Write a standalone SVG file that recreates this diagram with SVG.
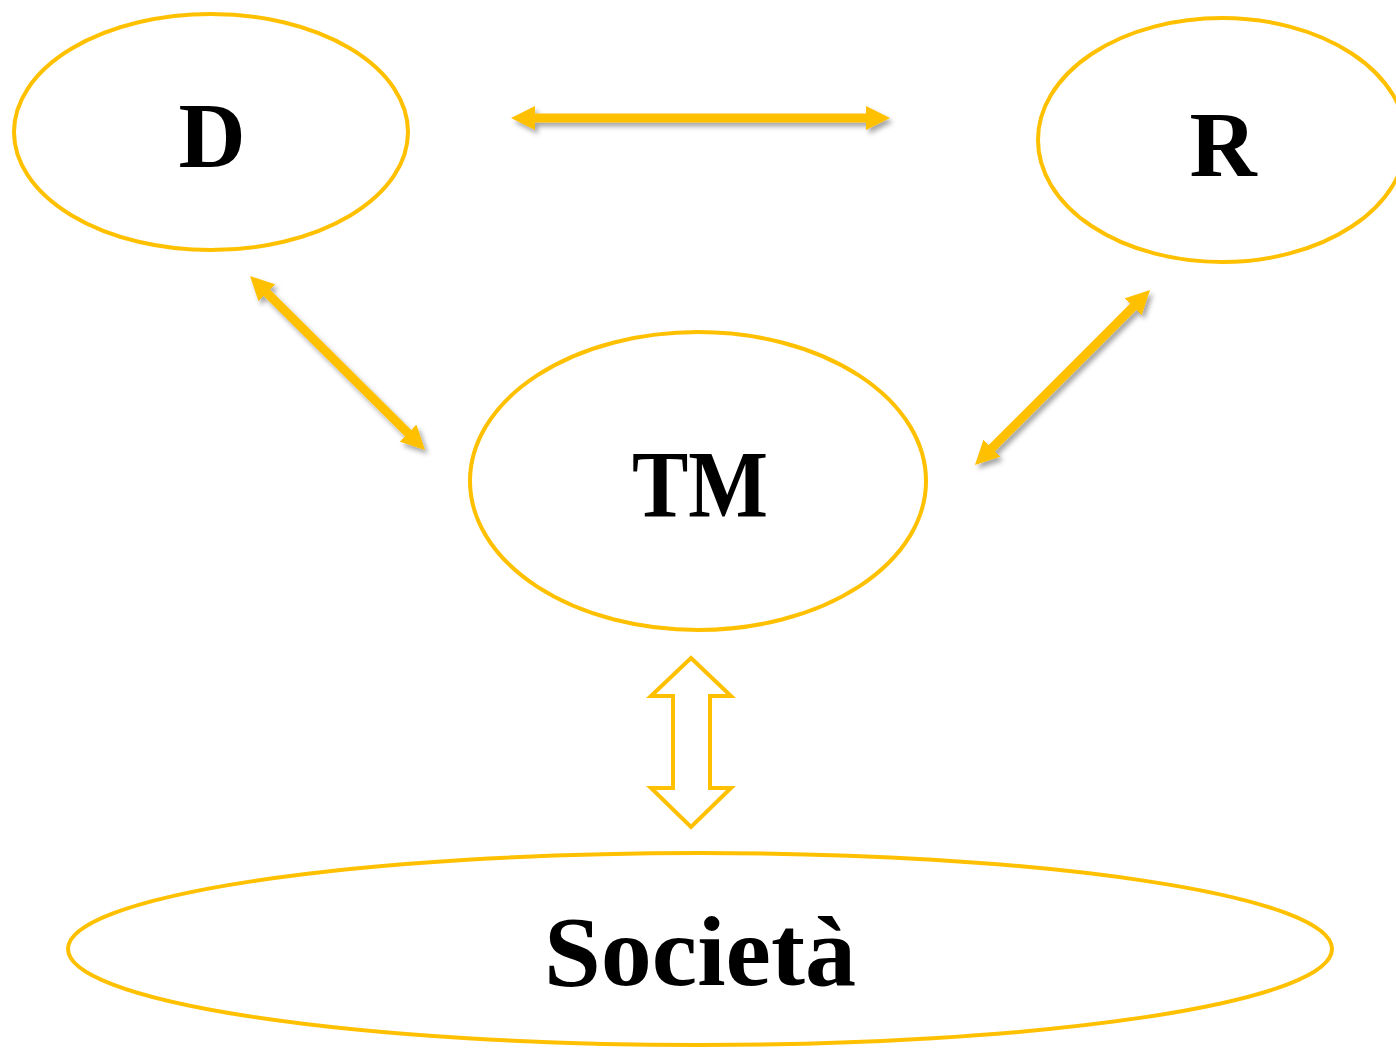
<svg xmlns="http://www.w3.org/2000/svg" width="1396" height="1048" viewBox="0 0 1396 1048">
<defs>
<style>
.node{fill:none;stroke:#FFC000;stroke-width:4}
.lbl{font-family:"Liberation Serif","DejaVu Serif",serif;font-weight:bold;fill:#000;text-anchor:middle}
.conn{stroke:#FFC000;stroke-width:9;fill:none;marker-start:url(#ah);marker-end:url(#ah);filter:url(#sh)}
.block{fill:#fff;stroke:#FFC000;stroke-width:4;stroke-linejoin:miter}
</style>
<marker id="ah" viewBox="0 0 24 24" refX="4" refY="12" markerWidth="24" markerHeight="24" markerUnits="userSpaceOnUse" orient="auto-start-reverse">
<path d="M0,0 L24,12 L0,24 z" fill="#FFC000"/>
</marker>
<filter id="sh" filterUnits="userSpaceOnUse" x="0" y="0" width="1396" height="1048">
<feDropShadow dx="3" dy="4" stdDeviation="2.5" flood-color="#000" flood-opacity="0.35"/>
</filter>
</defs>
<g id="node-D">
<ellipse class="node" cx="211" cy="132" rx="197" ry="118"/>
<text class="lbl" x="212" y="167" font-size="93">D</text>
</g>
<g id="node-R">
<ellipse class="node" cx="1222" cy="140" rx="184" ry="122"/>
<text class="lbl" x="1223" y="176" font-size="93">R</text>
</g>
<g id="node-TM">
<ellipse class="node" cx="698" cy="481" rx="228" ry="149"/>
<text class="lbl" x="700" y="517" font-size="96" textLength="136" lengthAdjust="spacingAndGlyphs">TM</text>
</g>
<g id="node-Societa">
<ellipse class="node" cx="700" cy="949" rx="632" ry="96"/>
<text class="lbl" x="700" y="985" font-size="100" textLength="312" lengthAdjust="spacingAndGlyphs">Società</text>
</g>
<g id="connectors">
<line class="conn" x1="531" y1="118" x2="870" y2="118"/>
<line class="conn" x1="264.2" y1="290.1" x2="410.8" y2="435.9"/>
<line class="conn" x1="1135.9" y1="304.1" x2="989.1" y2="450.9"/>
<polygon class="block" points="691,658 731,696 710,696 710,788 731,788 691,827 651,788 673,788 673,696 651,696"/>
</g>
</svg>
